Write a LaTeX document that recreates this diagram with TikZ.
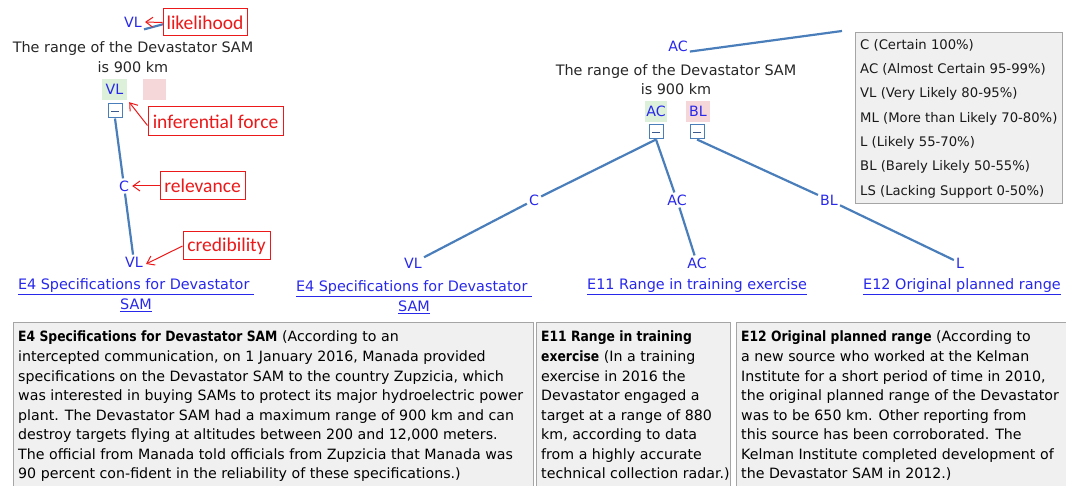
\documentclass[tikz,border=0pt]{standalone}
\usepackage{fontspec}
\setmainfont{DejaVu Sans}[BoldFeatures={FakeStretch=0.87}]
\newfontfamily\annofont{Carlito}
\usetikzlibrary{arrows.meta}
\definecolor{lblue}{RGB}{40,40,235}
\definecolor{edgec}{RGB}{74,126,187}
\definecolor{annoc}{RGB}{235,25,25}
\definecolor{gboxc}{RGB}{220,240,218}
\definecolor{pboxc}{RGB}{245,215,218}
\definecolor{panelc}{RGB}{240,240,240}
\definecolor{panelb}{RGB}{165,165,165}
\definecolor{minusc}{RGB}{60,90,140}
\tikzset{
  lab/.style={text=lblue, font=\fontsize{14.2}{16}\selectfont, inner sep=2pt},
  claim/.style={align=center, font=\fontsize{14.4}{19.5}\selectfont, inner sep=0pt, text=black!85},
  gbox/.style={fill=gboxc, text=lblue, font=\fontsize{14.2}{16}\selectfont, minimum height=21pt, inner sep=0pt},
  pbox/.style={fill=pboxc, text=lblue, font=\fontsize{14.2}{16}\selectfont, minimum height=21pt, inner sep=0pt},
  minusbox/.style={draw=edgec, fill=white, line width=1pt, minimum size=14pt, inner sep=0pt,
     path picture={\draw[minusc, line width=0.9pt] ([xshift=-4pt]path picture bounding box.center) -- ([xshift=4pt]path picture bounding box.center);}},
  edgeline/.style={draw=edgec, line width=2.2pt},
  evid/.style={text=lblue, align=center, font=\fontsize{14.4}{20}\selectfont, inner sep=0pt},
  annobox/.style={draw=annoc, fill=white, text=annoc, line width=1pt, font=\annofont\fontsize{19.5}{20}\selectfont, inner sep=0pt},
  annoarrow/.style={draw=annoc, line width=1pt, -{Straight Barb[length=7pt,width=10pt]}},
  panel/.style={draw=panelb, fill=panelc, line width=1pt, inner sep=0pt},
  paneltext/.style={align=left, font=\fontsize{14.2}{19.55}\selectfont, inner sep=0pt, text=black},
  legtext/.style={align=left, font=\fontsize{13.2}{24.3}\selectfont, inner sep=0pt, text=black!90},
}
\begin{document}
\begin{tikzpicture}[x=1pt,y=-1pt]
\useasboundingbox (0,0) rectangle (1066,486);

% ---------------- left tree ----------------
\node[lab] (lL) at (133,22) {VL};
\coordinate (lLp) at (190,17);
\draw[edgeline] (lL.south east) -- (lLp);
\node[claim] (lClaim) at (133,57) {The range of the Devastator SAM\\is 900 km};
\node[gbox, minimum width=25pt] (lG) at (114.5,89.5) {VL};
\node[pbox, minimum width=23pt] (lP) at (154.5,89.5) {};
\node[minusbox] (lM) at (115,111) {};
\node[lab] (lRel) at (124,186) {C};
\node[lab] (lCred) at (134,262) {VL};
\draw[edgeline] (lM.south) -- (lRel);
\draw[edgeline] (lRel) -- (lCred);
\node[evid] (lE) at (136,295) {\underline{E4 Specifications for Devastator\ }\\\underline{SAM}};

% annotations
\node[annobox, minimum width=84pt, minimum height=27pt] (aLik) at (205,22.5) {likelihood};
\draw[annoarrow] (aLik.west) -- ([xshift=1pt]lL.east);
\node[annobox, minimum width=135pt, minimum height=29pt] (aInf) at (215.5,121.5) {inferential force};
\draw[annoarrow] ([yshift=-4pt]aInf.west) -- ([xshift=2pt,yshift=-2pt]lG.south east);
\node[annobox, minimum width=85pt, minimum height=28pt] (aRel) at (202.5,186) {relevance};
\draw[annoarrow] (aRel.west) -- ([xshift=1pt]lRel.east);
\node[annobox, minimum width=87pt, minimum height=28pt] (aCred) at (226.5,246) {credibility};
\draw[annoarrow] (aCred.west) -- ([xshift=1pt,yshift=-2pt]lCred.east);

% ---------------- middle tree ----------------
\node[lab] (mL) at (678,46) {AC};
\coordinate (mLp) at (842,31);
\draw[edgeline] ([yshift=2pt]mL.south east) -- (mLp);
\node[claim] (mClaim) at (676,79.5) {The range of the Devastator SAM\\is 900 km};
\node[gbox, minimum width=22pt] (mG) at (656,111.5) {AC};
\node[pbox, minimum width=24pt] (mP) at (698,111.5) {BL};
\node[minusbox] (mM1) at (656,132) {};
\node[minusbox] (mM2) at (697,132) {};
\node[lab] (mR1) at (534,200) {C};
\node[lab] (mR2) at (677,200) {AC};
\node[lab] (mR3) at (829,200) {BL};
\node[lab] (mC1) at (413,263) {VL};
\node[lab] (mC2) at (697,263) {AC};
\node[lab] (mC3) at (960,263) {L};
\draw[edgeline] (mM1.south) -- (mR1);
\draw[edgeline] (mM1.south) -- (mR2);
\draw[edgeline] (mM2.south) -- (mR3);
\draw[edgeline] (mR1) -- (mC1);
\draw[edgeline] (mR2) -- (mC2);
\draw[edgeline] (mR3) -- (mC3);
\node[evid] (mE1) at (414,297) {\underline{E4 Specifications for Devastator\ }\\\underline{SAM}};
\node[evid] (mE2) at (697,287) {\underline{E11 Range in training exercise}};
\node[evid] (mE3) at (962,287) {\underline{E12 Original planned range}};

% ---------------- legend ----------------
\node[panel, minimum width=207pt, minimum height=171pt] (leg) at (958.5,118.5) {};
\node[legtext, anchor=north west] (legT) at (860,39) {C (Certain 100\%)\\AC (Almost Certain 95-99\%)\\VL (Very Likely 80-95\%)\\ML (More than Likely 70-80\%)\\L (Likely 55-70\%)\\BL (Barely Likely 50-55\%)\\LS (Lacking Support 0-50\%)};

% ---------------- evidence panels ----------------
\node[panel, minimum width=520pt, minimum height=180pt, anchor=north west] (b1) at (13,322) {};
\node[panel, minimum width=194pt, minimum height=180pt, anchor=north west] (b2) at (536,322) {};
\node[panel, minimum width=340pt, minimum height=180pt, anchor=north west] (b3) at (736,322) {};
\node[paneltext, anchor=north west] (t1) at (18,331) {\textbf{E4 Specifications for Devastator SAM} (According to an\\intercepted communication, on 1 January 2016, Manada provided\\specifications on the Devastator SAM to the country Zupzicia, which\\was interested in buying SAMs to protect its major hydroelectric power\\plant. The Devastator SAM had a maximum range of 900 km and can\\destroy targets flying at altitudes between 200 and 12,000 meters.\\The official from Manada told officials from Zupzicia that Manada was\\90 percent con-fident in the reliability of these specifications.)};
\node[paneltext, anchor=north west] (t2) at (541,331) {\textbf{E11 Range in training}\\\textbf{exercise} (In a training\\exercise in 2016 the\\Devastator engaged a\\target at a range of 880\\km, according to data\\from a highly accurate\\technical collection radar.)};
\node[paneltext, anchor=north west] (t3) at (741,331) {\textbf{E12 Original planned range} (According to\\a new source who worked at the Kelman\\Institute for a short period of time in 2010,\\the original planned range of the Devastator\\was to be 650 km. Other reporting from\\this source has been corroborated. The\\Kelman Institute completed development of\\the Devastator SAM in 2012.)};
\end{tikzpicture}
\end{document}
